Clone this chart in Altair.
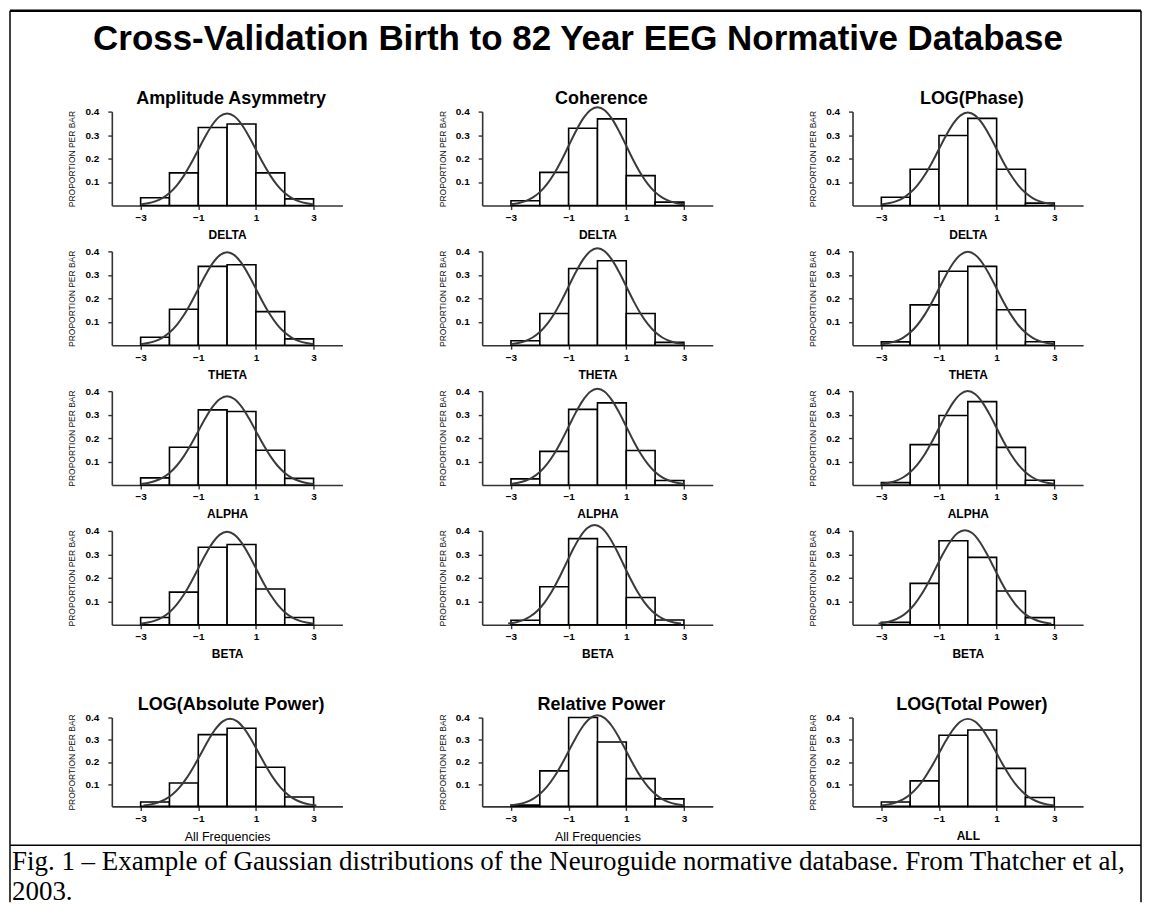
import altair as alt
import pandas as pd

# ---------------- text ----------------
main_title = "Cross-Validation Birth to 82 Year EEG Normative Database"
caption_line1 = "Fig. 1 \u2013 Example of Gaussian distributions of the Neuroguide normative database.  From Thatcher et al,"
caption_line2 = "2003."
col_titles = ["Amplitude Asymmetry", "Coherence", "LOG(Phase)"]
band_labels = ["DELTA", "THETA", "ALPHA", "BETA"]
bottom_titles = ["LOG(Absolute Power)", "Relative Power", "LOG(Total Power)"]
bottom_labels = ["All Frequencies", "All Frequencies", "ALL"]
y_title = "PROPORTION PER BAR"

# ---------------- axes ----------------
bin_edges = [-3, -2, -1, 0, 1, 2, 3]
x_ticks = [-3, -1, 1, 3]
y_ticks = [0.1, 0.2, 0.3, 0.4]

# ---------------- bar heights (proportion per bar) ----------------
amp_asym = [
    [0.033, 0.139, 0.332, 0.347, 0.139, 0.028],  # DELTA
    [0.034, 0.153, 0.336, 0.343, 0.143, 0.027],  # THETA
    [0.030, 0.161, 0.320, 0.313, 0.148, 0.028],  # ALPHA
    [0.031, 0.139, 0.330, 0.342, 0.152, 0.031],  # BETA
]
coherence = [
    [0.020, 0.141, 0.329, 0.369, 0.127, 0.014],
    [0.019, 0.135, 0.327, 0.360, 0.135, 0.012],
    [0.026, 0.143, 0.322, 0.350, 0.147, 0.019],
    [0.019, 0.162, 0.367, 0.332, 0.116, 0.020],
]
log_phase = [
    [0.035, 0.154, 0.298, 0.371, 0.154, 0.010],
    [0.014, 0.172, 0.315, 0.336, 0.151, 0.015],
    [0.010, 0.172, 0.296, 0.355, 0.160, 0.020],
    [0.010, 0.176, 0.358, 0.287, 0.144, 0.030],
]
abs_power = [0.020, 0.105, 0.323, 0.352, 0.176, 0.042]
rel_power = [0.006, 0.160, 0.400, 0.290, 0.125, 0.034]
total_power = [0.020, 0.115, 0.320, 0.344, 0.171, 0.040]

# ---------------- fitted Gaussian curves: peak height and centre ----------------
amp_asym_peak = [0.392, 0.396, 0.378, 0.396]
coherence_peak = [0.419, 0.413, 0.410, 0.425]
log_phase_peak = [0.396, 0.398, 0.400, 0.403]
bottom_peak = [0.395, 0.410, 0.394]
amp_asym_center = [0.0, 0.0, 0.0, 0.0]
coherence_center = [0.0, 0.0, 0.0, -0.1]
log_phase_center = [0.0, 0.0, 0.0, -0.1]
bottom_center = [0.1, 0.0, 0.0]

# Gaussian bell shape sampled from -3 to 3 (step 0.25)
curve_z = [-3.0, -2.75, -2.5, -2.25, -2.0, -1.75, -1.5, -1.25, -1.0, -0.75, -0.5, -0.25, 0.0,
           0.25, 0.5, 0.75, 1.0, 1.25, 1.5, 1.75, 2.0, 2.25, 2.5, 2.75, 3.0]
curve_shape = [0.0044, 0.0091, 0.0175, 0.0317, 0.0540, 0.0863, 0.1295, 0.1826, 0.2420, 0.3011,
               0.3521, 0.3867, 0.3989, 0.3867, 0.3521, 0.3011, 0.2420, 0.1826, 0.1295, 0.0863,
               0.0540, 0.0317, 0.0175, 0.0091, 0.0044]

PW = 231      # panel width
PH = 94       # panel height (rows 1-4)
PH5 = 89      # panel height (bottom row)
FONT = "Liberation Sans"


def panel(props, peak, center, xlabel, xlabel_weight, title=None, height=PH, extra=None):
    bars_df = pd.DataFrame({"lo": bin_edges[:-1], "hi": bin_edges[1:], "p": props})
    top = max(curve_shape)
    curve_df = pd.DataFrame({"x": [z + center for z in curve_z],
                             "y": [s * peak / top for s in curve_shape]})
    xs = alt.Scale(domain=[-4, 4], nice=False, zero=False)
    ys = alt.Scale(domain=[0, 0.4], nice=False)
    common = dict(domainColor="#333333", domainWidth=1.6, tickColor="#333333", tickWidth=1.4,
                  tickSize=4, labelFont=FONT, labelFontSize=10, labelFontWeight="bold",
                  labelColor="black", grid=False, labelOverlap=False, tickCount=10)
    xaxis = alt.Axis(values=x_ticks, title=xlabel, labelPadding=3, titleFont=FONT,
                     titleFontSize=12.5 if xlabel_weight == "normal" else 12,
                     titleFontWeight=xlabel_weight, titleColor="black", titlePadding=7,
                     labelFlush=False, **common)
    yaxis = alt.Axis(values=y_ticks, format=".1f", title=y_title, labelPadding=9,
                     titleFont=FONT, titleFontSize=8.5, titleFontWeight="normal",
                     titleColor="#111111", titlePadding=8, labelBaseline="middle",
                     labelFlush=False, **common)
    bars = alt.Chart(bars_df).mark_bar(fill="white", stroke="black", strokeWidth=1.6).encode(
        x=alt.X("lo:Q", scale=xs, axis=xaxis),
        x2="hi:Q",
        y=alt.Y("p:Q", scale=ys, axis=yaxis),
        y2=alt.datum(0),
    )
    line = alt.Chart(curve_df).mark_line(color="#3a3a3a", strokeWidth=2,
                                         interpolate="monotone").encode(
        x=alt.X("x:Q", scale=xs, axis=xaxis),
        y=alt.Y("y:Q", scale=ys, axis=yaxis))
    layers = [bars, line]
    if title:
        layers.append(
            alt.Chart(pd.DataFrame({"t": [title]})).mark_text(
                font=FONT, fontSize=18, fontWeight="bold", color="black",
                align="center", baseline="alphabetic").encode(
                x=alt.value(PW / 2 + 4), y=alt.value(-8), text="t:N")
        )
    if extra:
        layers.extend(extra)
    return alt.layer(*layers).properties(width=PW, height=height)


# ---------------- figure frame, main title and caption (decoration) ----------------
one = pd.DataFrame({"a": [0]})
L, R, T, SEP, B = -102, 1031, -101, 735, 792
frame_col = "black"
decor = [
    alt.Chart(one).mark_rule(color=frame_col, strokeWidth=2.5).encode(
        x=alt.value(L), x2=alt.value(R), y=alt.value(T)),
    alt.Chart(one).mark_rule(color=frame_col, strokeWidth=1.5).encode(
        x=alt.value(L), y=alt.value(T), y2=alt.value(B)),
    alt.Chart(one).mark_rule(color=frame_col, strokeWidth=1.5).encode(
        x=alt.value(R), y=alt.value(T), y2=alt.value(B)),
    alt.Chart(one).mark_rule(color=frame_col, strokeWidth=1.5).encode(
        x=alt.value(L), x2=alt.value(R), y=alt.value(SEP)),
    alt.Chart(pd.DataFrame({"t": [main_title]})).mark_text(
        font=FONT, fontSize=35, fontWeight="bold", color="black", align="center",
        baseline="alphabetic").encode(x=alt.value(467), y=alt.value(-62), text="t:N"),
    alt.Chart(pd.DataFrame({"t": [caption_line1]})).mark_text(
        font="Liberation Serif", fontSize=27, color="black", align="left",
        baseline="alphabetic").encode(x=alt.value(-100), y=alt.value(760), text="t:N"),
    alt.Chart(pd.DataFrame({"t": [caption_line2]})).mark_text(
        font="Liberation Serif", fontSize=27, color="black", align="left",
        baseline="alphabetic").encode(x=alt.value(-100), y=alt.value(790), text="t:N"),
]

cells = []
groups = [(amp_asym, amp_asym_peak, amp_asym_center),
          (coherence, coherence_peak, coherence_center),
          (log_phase, log_phase_peak, log_phase_center)]
for r in range(4):
    for c in range(3):
        vals, peaks, centers = groups[c]
        cells.append(panel(vals[r], peaks[r], centers[r], band_labels[r], "bold",
                           title=col_titles[c] if r == 0 else None,
                           extra=decor if (r == 0 and c == 0) else None))

# thin spacer row to open the gap before the bottom row
for c in range(3):
    cells.append(alt.Chart(one).mark_point(opacity=0).encode(
        x=alt.value(0), y=alt.value(0)).properties(width=PW, height=1))

bottom_vals = [abs_power, rel_power, total_power]
for c in range(3):
    cells.append(panel(bottom_vals[c], bottom_peak[c], bottom_center[c], bottom_labels[c],
                       "bold" if bottom_labels[c] == "ALL" else "normal",
                       title=bottom_titles[c], height=PH5))

chart = alt.concat(*cells, columns=3, spacing={"row": 46, "column": 140}, bounds="flush").properties(
    padding=0, background="white"
).configure_view(stroke=None).configure_axis(labelOverlap=False)

chart.save("out.html", embed_options={"renderer": "svg", "actions": False})
